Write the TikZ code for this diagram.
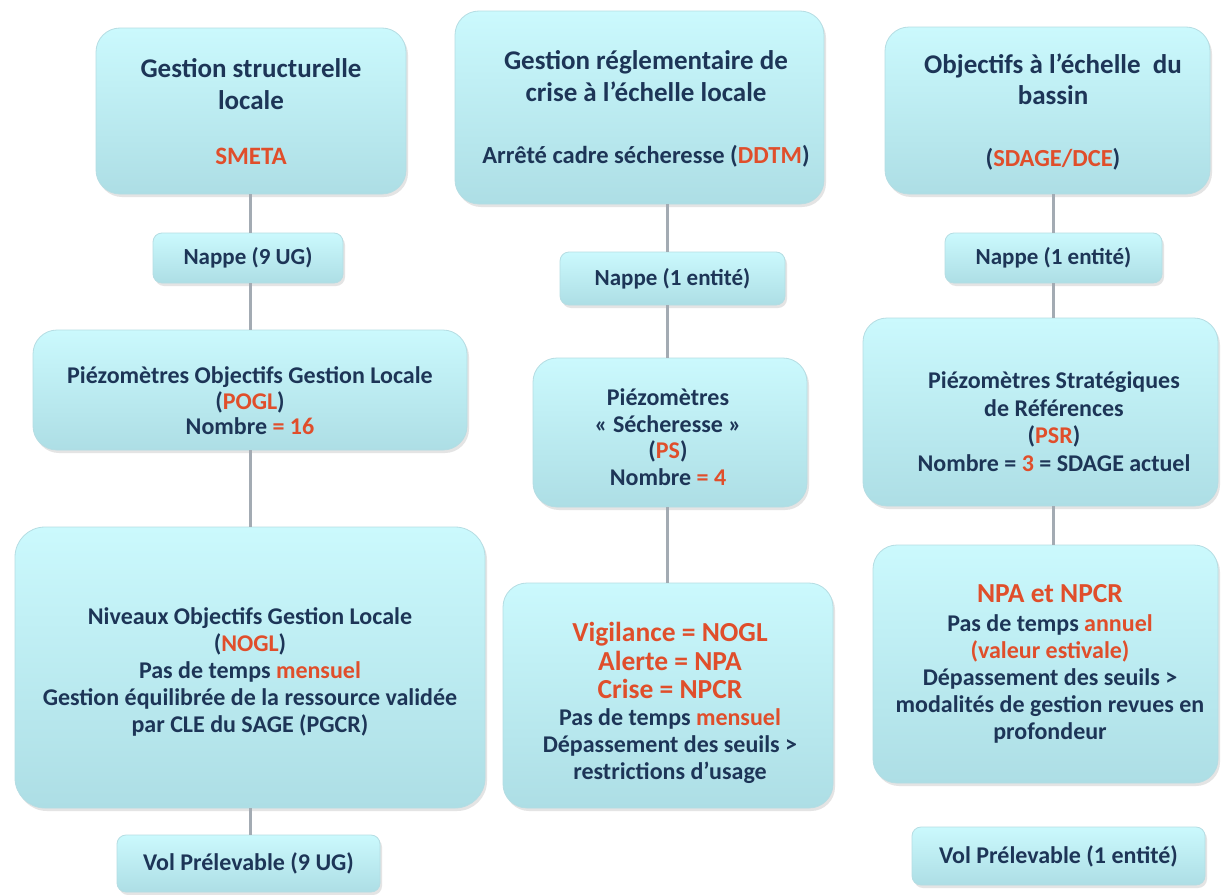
\documentclass[tikz,border=0pt]{standalone}
\usepackage{fontspec}
\setmainfont{Carlito}
\usetikzlibrary{shadows}
\definecolor{navy}{HTML}{1D3557}
\definecolor{hot}{HTML}{E04E2B}
\definecolor{boxtop}{HTML}{CBF9FD}
\definecolor{boxbot}{HTML}{ADDEE5}
\definecolor{boxedge}{HTML}{B5DDE3}
\definecolor{conncol}{HTML}{A3ABB3}
\newcommand{\hl}[1]{\textcolor{hot}{#1}}
\newcommand{\bigred}[1]{{\fontsize{27.5}{32}\selectfont\textcolor{hot}{#1}}}
\tikzset{
  box/.style={draw=boxedge, line width=0.8pt, rounded corners=24pt,
    top color=boxtop, bottom color=boxbot,
    drop shadow={opacity=0.3, shadow xshift=2pt, shadow yshift=-3pt, fill=gray!70},
    inner sep=0pt},
  smallbox/.style={box, rounded corners=9pt, align=center, text=navy},
  txt/.style={align=center, text=navy, inner sep=0pt, font=\bfseries\fontsize{24}{26.5}\selectfont},
  titletxt/.style={txt, font=\bfseries\fontsize{27}{31.5}\selectfont},
  nappe/.style={smallbox, font=\bfseries\fontsize{23}{28}\selectfont},
  vol/.style={smallbox, font=\bfseries\fontsize{24}{28}\selectfont},
  conn/.style={draw=conncol, line width=3pt}
}
\begin{document}
\begin{tikzpicture}[x=1pt,y=-1pt]
\useasboundingbox[fill=white] (0,0) rectangle (1223,894);
\coordinate (cL) at (250,0);
\coordinate (cM) at (667,0);
\coordinate (cR) at (1053,0);
% ---------- left column
\node[box, minimum width=310pt, minimum height=166pt] (L1) at (251,111) {};
\node[titletxt] (L1t) at (251,112)
  {Gestion structurelle\\locale\\[24pt]{\fontsize{25}{28}\selectfont\hl{SMETA}}};
\node[nappe, minimum width=190pt, minimum height=50pt] (L2) at (248,258) {Nappe (9 UG)};
\node[box, minimum width=434pt, minimum height=120pt] (L3) at (250,390) {};
\node[txt, font=\bfseries\fontsize{24}{25.5}\selectfont] (L3t) at (250,401)
  {Piézomètres Objectifs Gestion Locale\\(\hl{POGL})\\Nombre \hl{= 16}};
\node[box, rounded corners=30pt, minimum width=470pt, minimum height=281pt] (L4) at (250,667.5) {};
\node[txt, font=\bfseries\fontsize{24}{27}\selectfont] (L4t) at (250,672)
  {Niveaux Objectifs Gestion Locale\\(\hl{NOGL})\\Pas de temps \hl{mensuel}\\Gestion équilibrée de la ressource validée\\par CLE du SAGE (PGCR)};
\node[vol, minimum width=263pt, minimum height=57pt] (L5) at (248.5,863.5) {Vol Prélevable (9 UG)};
% ---------- middle column
\node[box, minimum width=369pt, minimum height=193pt] (M1) at (639.5,107.5) {};
\node[titletxt] (M1t) at (646,109)
  {Gestion réglementaire de\\crise à l’échelle locale\\[31pt]{\fontsize{24.5}{28}\selectfont Arrêté cadre sécheresse (\hl{DDTM})}};
\node[nappe, minimum width=225pt, minimum height=53pt] (M2) at (672.5,278.5) {Nappe (1 entité)};
\node[box, minimum width=274pt, minimum height=149pt] (M3) at (670,432.5) {};
\node[txt] (M3t) at (668,437)
  {Piézomètres\\« Sécheresse »\\(\hl{PS})\\Nombre \hl{= 4}};
\node[box, minimum width=330pt, minimum height=225pt] (M4) at (668,695.5) {};
\node[txt, font=\bfseries\fontsize{24}{27}\selectfont] (M4t) at (670,703)
  {\bigred{Vigilance = NOGL}\\[1.5pt]\bigred{Alerte = NPA}\\[1pt]\bigred{Crise = NPCR}\\Pas de temps \hl{mensuel}\\Dépassement des seuils >\\restrictions d’usage};
% ---------- right column
\node[box, minimum width=325pt, minimum height=167pt] (R1) at (1047.5,110.5) {};
\node[titletxt] (R1t) at (1053,112)
  {Objectifs à l’échelle~ du\\bassin\\[30pt]{\fontsize{24.5}{28}\selectfont(\hl{SDAGE/DCE})}};
\node[nappe, minimum width=217pt, minimum height=50pt] (R2) at (1053.5,258) {Nappe (1 entité)};
\node[box, minimum width=355pt, minimum height=188pt] (R3) at (1040.5,412) {};
\node[txt, font=\bfseries\fontsize{24}{27.5}\selectfont] (R3t) at (1054,421.5)
  {Piézomètres Stratégiques\\de Références\\(\hl{PSR})\\Nombre = \hl{3} = SDAGE actuel};
\node[box, minimum width=345pt, minimum height=238pt] (R4) at (1045.5,664) {};
\node[txt, font=\bfseries\fontsize{24}{27}\selectfont] (R4t) at (1050,664)
  {\bigred{NPA et NPCR}\\[2pt]Pas de temps \hl{annuel}\\\hl{(valeur estivale)}\\Dépassement des seuils >\\modalités de gestion revues en\\profondeur};
\node[vol, minimum width=293pt, minimum height=58pt] (R5) at (1058.5,856) {Vol Prélevable (1 entité)};
% ---------- connectors
\draw[conn] (L1.south -| cL) -- (L2.north -| cL);
\draw[conn] (L2.south -| cL) -- (L3.north -| cL);
\draw[conn] (L3.south -| cL) -- (L4.north -| cL);
\draw[conn] (L4.south -| cL) -- (L5.north -| cL);
\draw[conn] (M1.south -| cM) -- (M2.north -| cM);
\draw[conn] (M2.south -| cM) -- (M3.north -| cM);
\draw[conn] (M3.south -| cM) -- (M4.north -| cM);
\draw[conn] (R1.south -| cR) -- (R2.north -| cR);
\draw[conn] (R2.south -| cR) -- (R3.north -| cR);
\draw[conn] (R3.south -| cR) -- (R4.north -| cR);
\end{tikzpicture}
\end{document}
